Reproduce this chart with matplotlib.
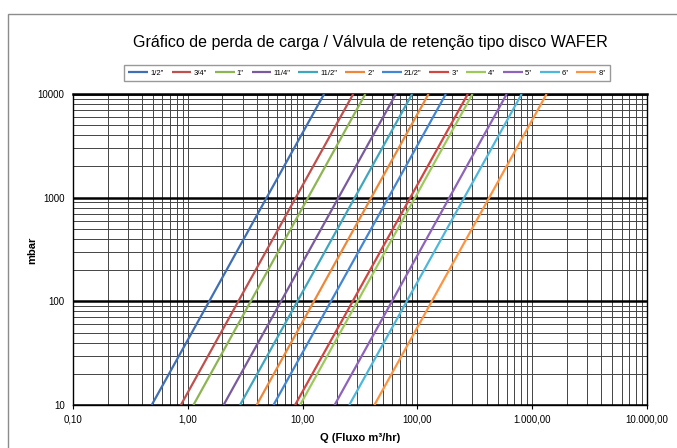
import matplotlib
matplotlib.use("Agg")
import matplotlib.pyplot as plt
import numpy as np
from matplotlib.patches import Rectangle
from matplotlib.ticker import FixedLocator, FuncFormatter, LogLocator, NullFormatter

plt.rcParams["font.family"] = ["Liberation Sans", "DejaVu Sans"]

# pressure drop grows with Q^2: each size is a straight line from 10 to 10000 mbar
sizes = ['1/2"', '3/4"', '1"', '11/4"', '11/2"', '2"',
         '21/2"', '3"', '4"', '5"', '6"', '8"']
q_at_10mbar = [0.485, 0.87, 1.12, 2.05, 2.85, 3.98,
               5.58, 8.6, 9.5, 19.0, 25.5, 42.2]
q_at_10000mbar = [15.4, 27.6, 35.2, 65.0, 90.0, 125.0,
                  177.0, 275.0, 302.0, 600.0, 810.0, 1335.0]
p_range = [10, 10000]

colors = ["#3F6FB5", "#C0504D", "#8DB552", "#7A5A9E", "#3FA6BF", "#EE8838",
          "#4286D6", "#D24540", "#9BC95A", "#8E63BC", "#4EB8DC", "#FF9440"]

x_ticks = [0.1, 1, 10, 100, 1000, 10000]
x_labels = ["0,10", "1,00", "10,00", "100,00", "1.000,00", "10.000,00"]
y_ticks = [10, 100, 1000, 10000]
y_labels = ["10", "100", "1000", "10000"]

fig = plt.figure(figsize=(6.77, 4.48), dpi=100)
ax = fig.add_axes([73 / 677, 1 - 405 / 448, 574 / 677, 311 / 448])

# outer chart frame
fig.patches.append(Rectangle((8 / 677, -0.1), 1.2, 1 - 14 / 448 + 0.1,
                             transform=fig.transFigure, fill=False,
                             edgecolor="#8c8c8c", linewidth=1.0, zorder=0))

for name, q0, q1, c in zip(sizes, q_at_10mbar, q_at_10000mbar, colors):
    ax.plot([q0, q1], p_range, color=c, linewidth=1.6, label=name,
            solid_capstyle="butt", zorder=3)

ax.set_xscale("log")
ax.set_yscale("log")
ax.set_xlim(0.1, 10000)
ax.set_ylim(10, 10000)

ax.xaxis.set_major_locator(FixedLocator(x_ticks))
ax.xaxis.set_major_formatter(FuncFormatter(lambda v, i: x_labels[x_ticks.index(v)] if v in x_ticks else ""))
ax.yaxis.set_major_locator(FixedLocator(y_ticks))
ax.yaxis.set_major_formatter(FuncFormatter(lambda v, i: y_labels[y_ticks.index(v)] if v in y_ticks else ""))
ax.xaxis.set_minor_locator(LogLocator(base=10, subs=np.arange(2, 10)))
ax.yaxis.set_minor_locator(LogLocator(base=10, subs=np.arange(2, 10)))
ax.xaxis.set_minor_formatter(NullFormatter())
ax.yaxis.set_minor_formatter(NullFormatter())

ax.tick_params(axis="x", which="major", length=3, width=0.8, labelsize=7, pad=4)
ax.tick_params(axis="y", which="major", length=0, labelsize=7, pad=6)
ax.tick_params(which="minor", length=0)

ax.grid(which="minor", axis="both", color="#444444", linewidth=0.7)
ax.grid(which="major", axis="x", color="#444444", linewidth=0.7)
ax.grid(which="major", axis="y", color="black", linewidth=1.8)

for side in ["left", "bottom", "right"]:
    ax.spines[side].set_linewidth(1.0)
ax.spines["top"].set_linewidth(1.8)

fig.text(360 / 677, 1 - 438 / 448, "Q (Fluxo m³/hr)", ha="center", va="center",
         fontsize=8, fontweight="bold")
fig.text(32 / 677, 1 - 250 / 448, "mbar", ha="center", va="center",
         rotation=90, fontsize=8, fontweight="bold")

fig.text(370 / 677, 1 - 42 / 448, "Gráfico de perda de carga / Válvula de retenção tipo disco WAFER",
         ha="center", va="center", fontsize=11.5)

fig.legend(loc="center", bbox_to_anchor=(367 / 677, 1 - 73 / 448), ncol=12,
           fontsize=5.5, frameon=True, fancybox=False, edgecolor="#808080",
           handlelength=2.6, handletextpad=0.3, columnspacing=1.0,
           borderpad=0.6)

fig.savefig("out.png", dpi=100)
